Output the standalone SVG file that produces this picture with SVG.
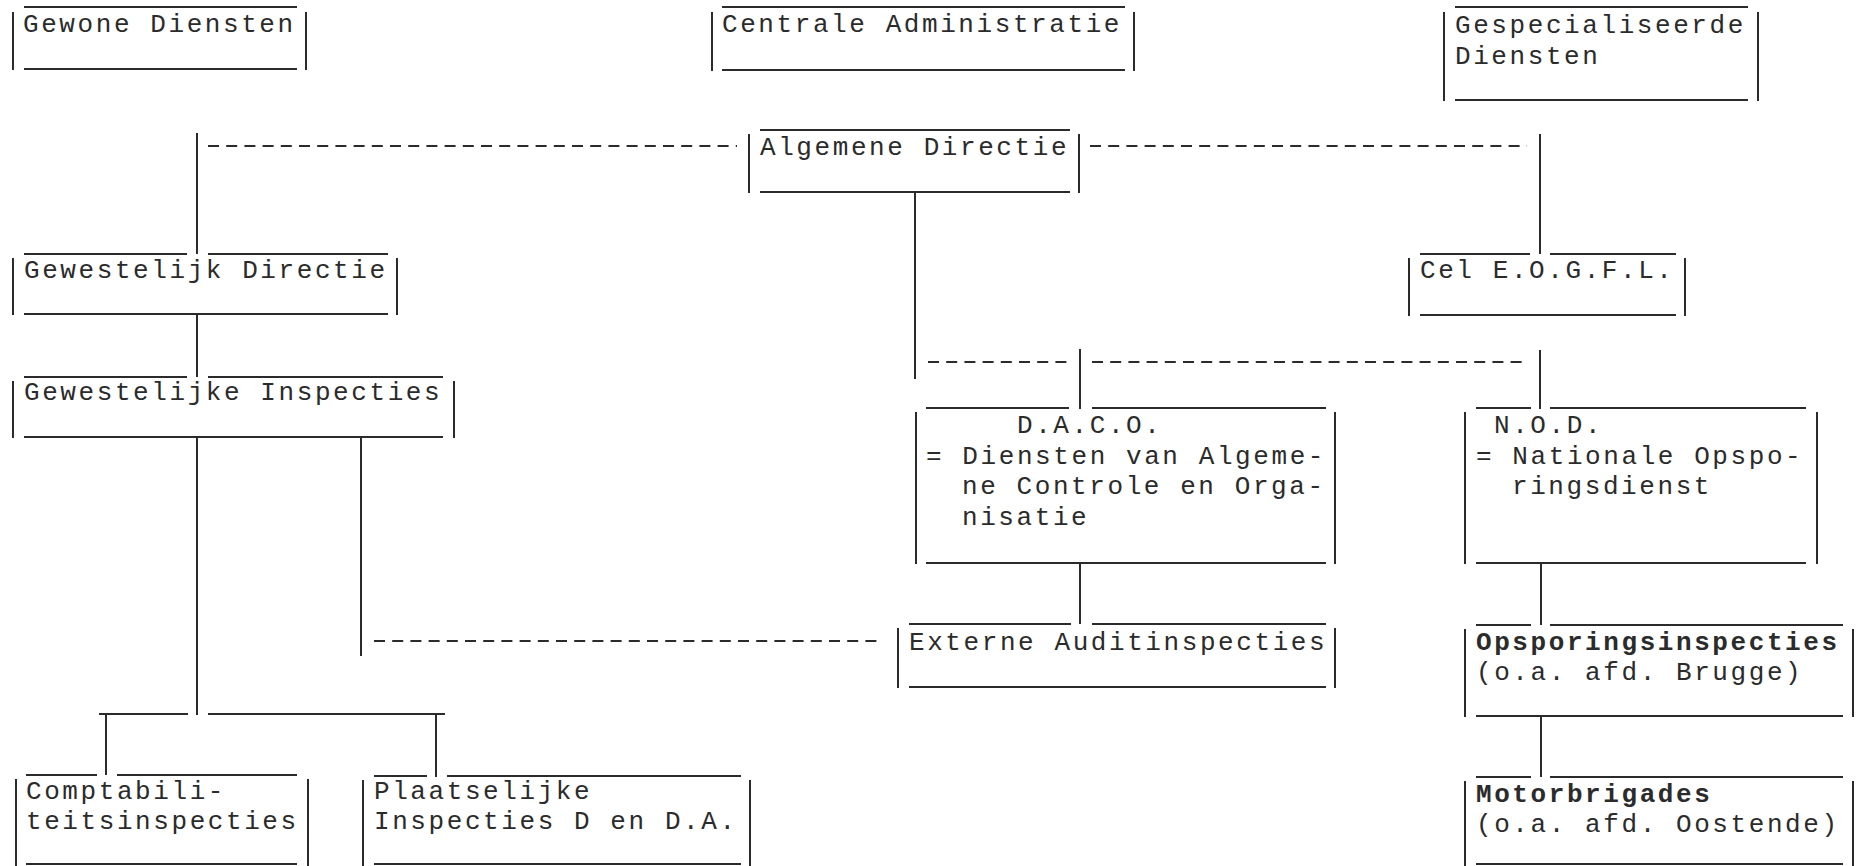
<svg xmlns="http://www.w3.org/2000/svg" width="1856" height="866" viewBox="0 0 1856 866">
<style>
  line { stroke: #2b2b2b; stroke-width: 2; }
  .d { stroke-dasharray: 11 7.2; }
  text { font-family: "Liberation Mono", "Courier New", monospace; font-size: 26px; letter-spacing: 2.58px; fill: #2b2b2b; }
  .b { font-weight: bold; }
</style>
<rect width="1856" height="866" fill="#ffffff"/>
<g id="connectors">
  <line class="d" x1="208" y1="146" x2="737" y2="146"/>
  <line class="d" x1="1090" y1="146" x2="1527" y2="146"/>
  <line x1="197" y1="133" x2="197" y2="254"/>
  <line x1="1540" y1="134" x2="1540" y2="254"/>
  <line x1="197" y1="314" x2="197" y2="377"/>
  <line x1="915" y1="192" x2="915" y2="379"/>
  <line class="d" x1="928" y1="362" x2="1069" y2="362"/>
  <line class="d" x1="1092" y1="362" x2="1527" y2="362"/>
  <line x1="1080" y1="349" x2="1080" y2="409"/>
  <line x1="1540" y1="350" x2="1540" y2="409"/>
  <line x1="197" y1="437" x2="197" y2="715"/>
  <line x1="361" y1="437" x2="361" y2="656"/>
  <line class="d" x1="374" y1="641" x2="883" y2="641"/>
  <line x1="1080" y1="563" x2="1080" y2="624"/>
  <line x1="1541" y1="563" x2="1541" y2="625"/>
  <line x1="1541" y1="716" x2="1541" y2="777"/>
  <line x1="99" y1="714" x2="188" y2="714"/>
  <line x1="208" y1="714" x2="445" y2="714"/>
  <line x1="106" y1="714" x2="106" y2="775"/>
  <line x1="436" y1="715" x2="436" y2="777"/>
</g>
<g id="gewone-diensten">
  <line x1="24" y1="7" x2="297" y2="7"/>
  <line x1="13" y1="12" x2="13" y2="70"/>
  <line x1="306" y1="12" x2="306" y2="70"/>
  <line x1="24" y1="69" x2="297" y2="69"/>
  <text x="23" y="32">Gewone Diensten</text>
</g>
<g id="centrale-administratie">
  <line x1="722" y1="7" x2="1125" y2="7"/>
  <line x1="712" y1="12" x2="712" y2="71"/>
  <line x1="1134" y1="12" x2="1134" y2="71"/>
  <line x1="722" y1="70" x2="1125" y2="70"/>
  <text x="722" y="32">Centrale Administratie</text>
</g>
<g id="gespecialiseerde-diensten">
  <line x1="1455" y1="7" x2="1748" y2="7"/>
  <line x1="1444" y1="12" x2="1444" y2="101"/>
  <line x1="1758" y1="12" x2="1758" y2="101"/>
  <line x1="1455" y1="100" x2="1748" y2="100"/>
  <text x="1455" y="33">Gespecialiseerde</text>
  <text x="1455" y="64">Diensten</text>
</g>
<g id="algemene-directie">
  <line x1="760" y1="130" x2="1070" y2="130"/>
  <line x1="749" y1="134" x2="749" y2="193"/>
  <line x1="1079" y1="134" x2="1079" y2="193"/>
  <line x1="760" y1="192" x2="1070" y2="192"/>
  <text x="760" y="155">Algemene Directie</text>
</g>
<g id="gewestelijk-directie">
  <line x1="24" y1="254" x2="187" y2="254"/>
  <line x1="208" y1="254" x2="388" y2="254"/>
  <line x1="13" y1="258" x2="13" y2="315"/>
  <line x1="397" y1="258" x2="397" y2="315"/>
  <line x1="24" y1="314" x2="388" y2="314"/>
  <text x="24" y="278">Gewestelijk Directie</text>
</g>
<g id="cel-eogfl">
  <line x1="1420" y1="254" x2="1530" y2="254"/>
  <line x1="1550" y1="254" x2="1676" y2="254"/>
  <line x1="1409" y1="258" x2="1409" y2="316"/>
  <line x1="1685" y1="258" x2="1685" y2="316"/>
  <line x1="1420" y1="315" x2="1676" y2="315"/>
  <text x="1420" y="278">Cel E.O.G.F.L.</text>
</g>
<g id="gewestelijke-inspecties">
  <line x1="24" y1="377" x2="187" y2="377"/>
  <line x1="208" y1="377" x2="443" y2="377"/>
  <line x1="13" y1="381" x2="13" y2="438"/>
  <line x1="454" y1="381" x2="454" y2="438"/>
  <line x1="24" y1="437" x2="443" y2="437"/>
  <text x="24" y="400">Gewestelijke Inspecties</text>
</g>
<g id="daco">
  <line x1="926" y1="408" x2="1069" y2="408"/>
  <line x1="1092" y1="408" x2="1326" y2="408"/>
  <line x1="916" y1="412" x2="916" y2="564"/>
  <line x1="1335" y1="412" x2="1335" y2="564"/>
  <line x1="926" y1="563" x2="1326" y2="563"/>
  <text x="1017" y="433">D.A.C.O.</text>
  <text x="926" y="464">= Diensten van Algeme-</text>
  <text x="962" y="494">ne Controle en Orga-</text>
  <text x="962" y="525">nisatie</text>
</g>
<g id="nod">
  <line x1="1476" y1="408" x2="1531" y2="408"/>
  <line x1="1550" y1="408" x2="1806" y2="408"/>
  <line x1="1465" y1="412" x2="1465" y2="564"/>
  <line x1="1817" y1="412" x2="1817" y2="564"/>
  <line x1="1476" y1="563" x2="1806" y2="563"/>
  <text x="1494" y="433">N.O.D.</text>
  <text x="1476" y="464">= Nationale Opspo-</text>
  <text x="1512" y="494">ringsdienst</text>
</g>
<g id="externe-auditinspecties">
  <line x1="909" y1="624" x2="1071" y2="624"/>
  <line x1="1092" y1="624" x2="1326" y2="624"/>
  <line x1="898" y1="628" x2="898" y2="688"/>
  <line x1="1335" y1="628" x2="1335" y2="688"/>
  <line x1="909" y1="687" x2="1326" y2="687"/>
  <text x="909" y="650">Externe Auditinspecties</text>
</g>
<g id="opsporingsinspecties">
  <line x1="1476" y1="625" x2="1531" y2="625"/>
  <line x1="1550" y1="625" x2="1843" y2="625"/>
  <line x1="1465" y1="629" x2="1465" y2="717"/>
  <line x1="1853" y1="629" x2="1853" y2="717"/>
  <line x1="1476" y1="716" x2="1843" y2="716"/>
  <text class="b" x="1476" y="650">Opsporingsinspecties</text>
  <text x="1476" y="680">(o.a. afd. Brugge)</text>
</g>
<g id="comptabiliteitsinspecties">
  <line x1="26" y1="775" x2="97" y2="775"/>
  <line x1="117" y1="775" x2="297" y2="775"/>
  <line x1="16" y1="779" x2="16" y2="866"/>
  <line x1="308" y1="779" x2="308" y2="866"/>
  <line x1="26" y1="864" x2="297" y2="864"/>
  <text x="26" y="799">Comptabili-</text>
  <text x="26" y="829">teitsinspecties</text>
</g>
<g id="plaatselijke-inspecties">
  <line x1="374" y1="776" x2="427" y2="776"/>
  <line x1="447" y1="776" x2="741" y2="776"/>
  <line x1="363" y1="780" x2="363" y2="866"/>
  <line x1="750" y1="780" x2="750" y2="866"/>
  <line x1="374" y1="864" x2="741" y2="864"/>
  <text x="374" y="799">Plaatselijke</text>
  <text x="374" y="829">Inspecties D en D.A.</text>
</g>
<g id="motorbrigades">
  <line x1="1476" y1="777" x2="1531" y2="777"/>
  <line x1="1550" y1="777" x2="1843" y2="777"/>
  <line x1="1465" y1="781" x2="1465" y2="866"/>
  <line x1="1853" y1="781" x2="1853" y2="866"/>
  <line x1="1476" y1="864" x2="1843" y2="864"/>
  <text class="b" x="1476" y="802">Motorbrigades</text>
  <text x="1476" y="832">(o.a. afd. Oostende)</text>
</g>
</svg>
